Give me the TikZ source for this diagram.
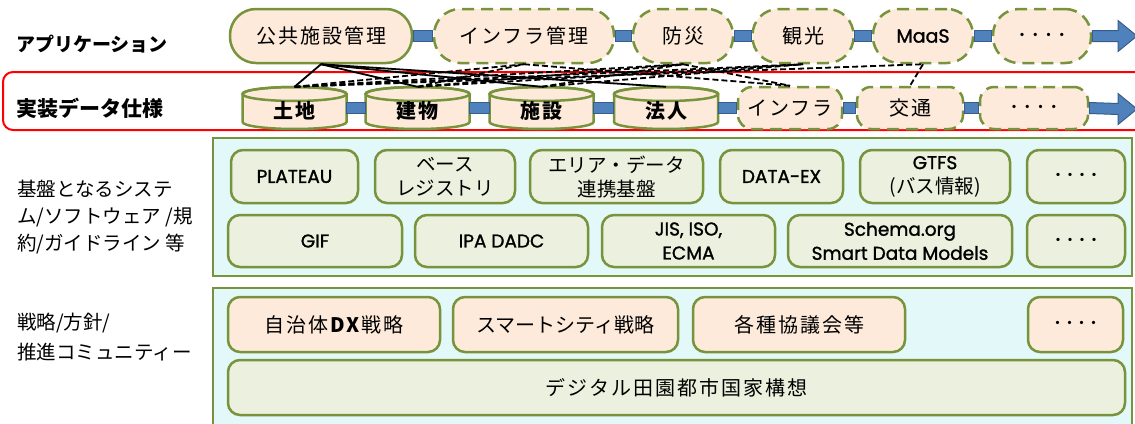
\documentclass[tikz,border=0pt]{standalone}
\usepackage{fontspec}
\setmainfont{Noto Sans CJK JP}
\newfontfamily\lat[FakeBold=1.3]{Poppins}
\usetikzlibrary{calc}
\definecolor{gborder}{HTML}{77933C}
\definecolor{peach}{HTML}{FDEADA}
\definecolor{lgreen}{HTML}{EBF1DE}
\definecolor{cyanbg}{HTML}{E3F8F8}
\definecolor{barfill}{HTML}{4F81BD}
\definecolor{baredge}{HTML}{385D8A}
\definecolor{redline}{HTML}{FF0000}
\newcommand\jfs{\fontsize{20}{24}\selectfont\addfontfeature{LetterSpace=10}}
\newcommand\jfb{\fontsize{20}{24}\selectfont\bfseries\addfontfeature{LetterSpace=10}}
\newcommand\ifs{\fontsize{19.5}{24}\selectfont}
\newcommand\lfs{\fontsize{18.5}{24}\selectfont\lat}
\newcommand\mydots{\fontsize{12}{14}\selectfont\bfseries ・・・・}
\tikzset{
  base/.style={draw=gborder, line width=2.5pt, inner sep=0pt, align=center},
  gdash/.style={dash pattern=on 12pt off 7pt},
  app/.style={base, fill=peach, rounded corners=26pt, minimum height=54pt, font=\jfs},
  appd/.style={app, gdash},
  cylbox/.style={inner sep=0pt, minimum height=42pt},
  cyltext/.style={inner sep=0pt, font=\jfb},
  dbox/.style={base, gdash, fill=peach, rounded corners=14pt, minimum height=42pt, font=\jfs},
  item/.style={base, fill=lgreen, rounded corners=12pt, font=\ifs},
  litem/.style={item, font=\lfs},
  itemp/.style={item, fill=peach},
  panel/.style={draw=gborder, line width=2.5pt, fill=cyanbg},
  lbl/.style={anchor=west, inner sep=0pt, align=left},
  bar/.style={fill=barfill, draw=baredge, line width=1pt},
  solidc/.style={black, line width=1.8pt},
  dashc/.style={black, line width=1.8pt, dash pattern=on 6pt off 3pt},
  cylfill/.style={fill=peach, draw=gborder, line width=2.5pt},
}
\newcommand\cyl[3]{%
  \path[cylfill] (#2-52,-94) -- (#2-52,-122) arc[start angle=180,end angle=360,x radius=52,y radius=7]
     -- (#2+52,-94) arc[start angle=0,end angle=180,x radius=52,y radius=7] -- cycle;
  \draw[gborder, line width=2.5pt] (#2,-94) ellipse[x radius=52, y radius=7];
  \node[cylbox, minimum width=104pt] (#1) at (#2,-108) {};
  \node[cyltext] (#1t) at (#2,-111) {#3};
}
\begin{document}
\begin{tikzpicture}[x=1pt,y=1pt]
\useasboundingbox (0,0) rectangle (1135,-423);
\fill[white] (0,0) rectangle (1135,-423);

% panels
\draw[panel] (213,-138) rectangle (1132,-276);
\draw[panel] (213,-288) rectangle (1132,-430);
\draw[redline, line width=2pt, rounded corners=10pt] (3,-72) rectangle (1150,-130);

% left labels
\node[lbl, font=\fontsize{19}{23}\selectfont\bfseries] (l1) at (16,-44) {アプリケーション};
\node[lbl, font=\fontsize{21}{25}\selectfont\bfseries] (l2) at (16,-108) {実装データ仕様};
\node[lbl, font=\fontsize{19.5}{27}\selectfont] (l3) at (17,-217) {基盤となるシステ\\ム/ソフトウェア /規\\約/ガイドライン 等};
\node[lbl, font=\fontsize{19.5}{30}\selectfont] (l4) at (17,-337) {戦略/方針/\\推進コミュニティー};

% application row
\node[app, minimum width=182pt] (app1) at (321,-36) {公共施設管理};
\node[appd, minimum width=180pt] (app2) at (524,-36) {インフラ管理};
\node[appd, minimum width=100pt] (app3) at (683,-36) {防災};
\node[appd, minimum width=101pt] (app4) at (803,-36) {観光};
\node[appd, minimum width=100pt, font=\fontsize{19}{22}\selectfont\lat] (app5) at (923,-36) {MaaS};
\node[appd, minimum width=98pt] (app6) at (1042,-36) {\mydots};

\draw[bar] ($(app1.east)+(0,5.5)$) rectangle ($(app2.west)+(0,-5.5)$);
\draw[bar] ($(app2.east)+(0,5.5)$) rectangle ($(app3.west)+(0,-5.5)$);
\draw[bar] ($(app3.east)+(0,5.5)$) rectangle ($(app4.west)+(0,-5.5)$);
\draw[bar] ($(app4.east)+(0,5.5)$) rectangle ($(app5.west)+(0,-5.5)$);
\draw[bar] ($(app5.east)+(0,5.5)$) rectangle ($(app6.west)+(0,-5.5)$);
\coordinate (tip1) at (1137,-36);
\draw[bar] ($(app6.east)+(0,5.5)$) -- (1118,-30.5) -- (1118,-20.5) -- (tip1) -- (1118,-51.5) -- (1118,-41.5) -- ($(app6.east)+(0,-5.5)$) -- cycle;

% data row
\cyl{d1}{294.5}{土地}
\cyl{d2}{417.5}{建物}
\cyl{d3}{541.5}{施設}
\cyl{d4}{666}{法人}
\node[dbox, minimum width=104pt] (d5) at (790,-108) {インフラ};
\node[dbox, minimum width=106pt] (d6) at (910,-108) {交通};
\node[dbox, minimum width=108pt] (d7) at (1034,-108) {\mydots};

\draw[bar] ($(d1.east)+(0,5.5)$) rectangle ($(d2.west)+(0,-5.5)$);
\draw[bar] ($(d2.east)+(0,5.5)$) rectangle ($(d3.west)+(0,-5.5)$);
\draw[bar] ($(d3.east)+(0,5.5)$) rectangle ($(d4.west)+(0,-5.5)$);
\draw[bar] ($(d4.east)+(0,5.5)$) rectangle ($(d5.west)+(0,-5.5)$);
\draw[bar] ($(d5.east)+(0,5.5)$) rectangle ($(d6.west)+(0,-5.5)$);
\draw[bar] ($(d6.east)+(0,5.5)$) rectangle ($(d7.west)+(0,-5.5)$);
\coordinate (tip2) at (1137,-109);
\draw[bar] ($(d7.east)+(0,5.5)$) -- (1118,-103.5) -- (1118,-93.5) -- (tip2) -- (1118,-124.5) -- (1118,-114.5) -- ($(d7.east)+(0,-5.5)$) -- cycle;

% connectors
\draw[solidc] (d1.north) -- (app1.south) -- (d2.north);
\draw[solidc] (app1.south) -- (d3.north);
\draw[solidc] (app1.south) -- (d4.north);
\draw[dashc] (d1.north) -- (app2.south);
\draw[dashc] (d1.north) -- (app3.south);
\draw[dashc] (d1.north) -- (app4.south);
\draw[dashc] (d1.north) -- (app5.south);
\draw[dashc] (d2.north) -- (app2.south);
\draw[dashc] (d2.north) -- (app3.south);
\draw[dashc] (d2.north) -- (app4.south);
\draw[dashc] (d3.north) -- (app3.south);
\draw[dashc] (d3.north) -- (app4.south);
\draw[dashc] (app2.south) -- (d5.north);
\draw[dashc] (app3.south) -- (d5.north);
\draw[dashc] (app5.south) -- (d6.north);

% base systems
\node[litem, minimum width=127pt, minimum height=53pt] (b1) at (294.5,-176.5) {PLATEAU};
\node[item, minimum width=140pt, minimum height=53pt] (b2) at (445,-176.5) {ベース\\レジストリ};
\node[item, minimum width=173pt, minimum height=53pt] (b3) at (616.5,-176.5) {エリア・データ\\連携基盤};
\node[litem, minimum width=123pt, minimum height=53pt] (b4) at (781.5,-176.5) {DATA-EX};
\node[item, minimum width=150pt, minimum height=53pt] (b5) at (935,-176.5) {{\lfs GTFS}\\(バス情報)};
\node[item, minimum width=98pt, minimum height=53pt] (b6) at (1076,-176.5) {\mydots};
\node[litem, minimum width=174pt, minimum height=52pt] (c1) at (315,-241) {GIF};
\node[litem, minimum width=173pt, minimum height=52pt] (c2) at (501.5,-241) {IPA DADC};
\node[litem, minimum width=173pt, minimum height=52pt] (c3) at (688.5,-241) {JIS, ISO,\\ECMA};
\node[litem, minimum width=224pt, minimum height=52pt] (c4) at (900,-241) {Schema.org\\Smart Data Models};
\node[item, minimum width=98pt, minimum height=52pt] (c5) at (1076,-241) {\mydots};

% strategy
\node[itemp, minimum width=212pt, minimum height=55pt, font=\jfs] (s1) at (334,-324.5) {自治体\textbf{DX}戦略};
\node[itemp, minimum width=225pt, minimum height=55pt, font=\fontsize{20}{24}\selectfont] (s2) at (565.5,-324.5) {スマートシティ戦略};
\node[itemp, minimum width=212pt, minimum height=55pt, font=\jfs] (s3) at (799,-324.5) {各種協議会等};
\node[itemp, minimum width=95pt, minimum height=55pt] (s4) at (1075.5,-324.5) {\mydots};
\node[item, minimum width=897pt, minimum height=55pt, font=\jfs] (s5) at (676.5,-387.5) {デジタル田園都市国家構想};
\end{tikzpicture}
\end{document}
